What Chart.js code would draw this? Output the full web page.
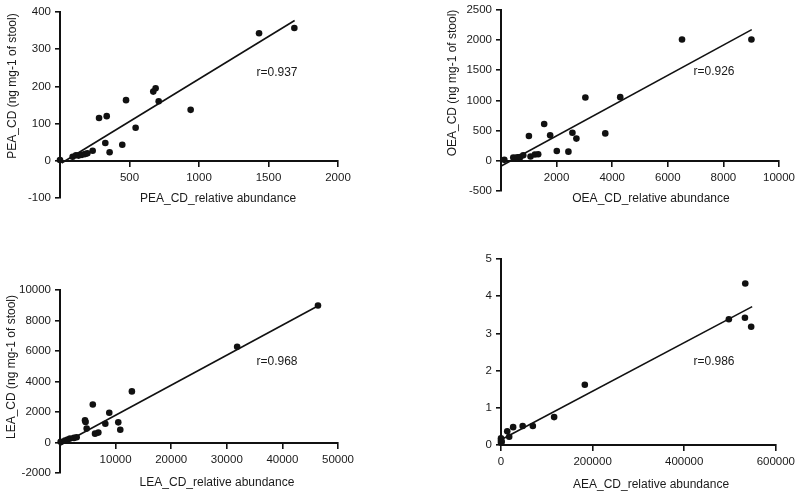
<!DOCTYPE html>
<html lang="en">
<head>
<meta charset="UTF-8" />
<title>CD correlations</title>
<script src="https://cdn.jsdelivr.net/npm/chart.js"></script>
<style>
  body { margin: 0; background: #fff; }
  canvas { position: absolute; }
</style>
</head>
<body>

<canvas id="pea" style="left:0;top:0" width="400" height="240"></canvas>
<canvas id="oea" style="left:400px;top:0" width="400" height="240"></canvas>
<canvas id="lea" style="left:0;top:240px" width="400" height="251"></canvas>
<canvas id="aea" style="left:400px;top:240px" width="400" height="251"></canvas>

<script>
  // PEA
  const peaX = [0, 91, 115, 134, 158, 180, 197, 235, 281, 326, 336, 357, 448, 475, 544, 671, 688, 710, 940, 1432, 1686];
  const peaY = [2, 11, 15, 14, 16, 18, 20, 27, 115, 48, 120, 23, 43, 163, 89, 186, 195, 160, 137, 343, 357];
  const peaFitX = [12, 1688];
  const peaFitY = [-6, 377];
  const peaXTicks = [500, 1000, 1500, 2000];
  const peaYTicks = [-100, 0, 100, 200, 300, 400];

  // OEA
  const oeaX = [120, 442, 530, 600, 690, 800, 1004, 1063, 1219, 1338, 1553, 1768, 2007, 2425, 2569, 2712, 3035, 3751, 4289, 6511, 9008];
  const oeaY = [16, 54, 50, 56, 60, 92, 410, 70, 103, 108, 610, 421, 162, 151, 464, 367, 1047, 453, 1053, 2008, 2008];
  const oeaFitX = [24, 9020];
  const oeaFitY = [-81, 2171];
  const oeaXTicks = [2000, 4000, 6000, 8000, 10000];
  const oeaYTicks = [-500, 0, 500, 1000, 1500, 2000, 2500];

  // LEA
  const leaX = [120, 900, 1380, 1800, 2515, 3000, 4500, 4600, 4800, 5900, 6300, 6900, 8150, 8860, 10480, 10840, 12930, 31860, 46400];
  const leaY = [43, 130, 195, 260, 303, 346, 1450, 1340, 910, 2490, 580, 650, 1230, 1950, 1320, 840, 3350, 6280, 8980];
  const leaFitX = [0, 46700];
  const leaFitY = [-180, 9020];
  const leaXTicks = [10000, 20000, 30000, 40000, 50000];
  const leaYTicks = [-2000, 0, 2000, 4000, 6000, 8000, 10000];

  // AEA
  const aeaX = [0, 0, 0, 1500, 13600, 17900, 26500, 47300, 69500, 116000, 183000, 497500, 532600, 533300, 546200];
  const aeaY = [0.06, 0.12, 0.18, 0.09, 0.37, 0.22, 0.48, 0.51, 0.51, 0.75, 1.62, 3.38, 3.42, 4.34, 3.18];
  const aeaFitX = [0, 548400];
  const aeaFitY = [0.14, 3.72];
  const aeaXTicks = [0, 200000, 400000, 600000];
  const aeaYTicks = [0, 1, 2, 3, 4, 5];

  const FONT = "'Liberation Sans', Arial, Helvetica, sans-serif";
  const INK = "#1a1a1a";

  function toPoints(xs, ys) {
    return xs.map((x, i) => ({ x: x, y: ys[i] }));
  }

  // axis titles and r value, drawn as plain text on the canvas
  const panelText = {
    id: "panelText",
    afterDraw(chart, args, opts) {
      const c = chart.ctx;
      c.save();
      c.fillStyle = INK;
      c.font = "12px " + FONT;
      c.textAlign = "center";
      c.textBaseline = "middle";
      c.fillText(opts.xTitle, opts.xTitleAt[0], opts.xTitleAt[1]);
      c.fillText(opts.r, opts.rAt[0], opts.rAt[1]);
      c.translate(opts.yTitleAt[0], opts.yTitleAt[1]);
      c.rotate(-Math.PI / 2);
      c.fillText(opts.yTitle, 0, 0);
      c.restore();
    }
  };

  function makeChart(id, p) {
    const axisStyle = {
      grid: { drawOnChartArea: false, drawTicks: true, tickLength: 5, color: "#111", lineWidth: 1.6 },
      border: { color: "#111", width: 2 }
    };
    return new Chart(document.getElementById(id), {
      type: "scatter",
      data: {
        datasets: [
          {
            data: toPoints(p.xs, p.ys),
            backgroundColor: "#111",
            borderWidth: 0,
            pointRadius: 3.3,
            clip: false
          },
          {
            type: "line",
            data: toPoints(p.fitX, p.fitY),
            borderColor: "#111",
            borderWidth: 1.6,
            pointRadius: 0,
            fill: false,
            clip: false
          }
        ]
      },
      options: {
        responsive: false,
        animation: false,
        layout: { padding: p.pad },
        plugins: {
          legend: { display: false },
          tooltip: { enabled: false },
          panelText: p.text
        },
        scales: {
          x: {
            type: "linear",
            position: { y: 0 },
            min: p.xMin,
            max: p.xMax,
            afterBuildTicks: s => { s.ticks = p.xTicks.map(v => ({ value: v })); },
            ticks: {
              color: INK,
              padding: 5,
              maxRotation: 0,
              font: { family: FONT, size: 11.5 },
              callback: v => String(v)
            },
            ...axisStyle
          },
          y: {
            type: "linear",
            min: p.yMin,
            max: p.yMax,
            afterBuildTicks: s => { s.ticks = p.yTicks.map(v => ({ value: v })); },
            afterFit: s => { s.width = p.yWidth; },
            ticks: {
              color: INK,
              padding: 4,
              font: { family: FONT, size: 11.5, lineHeight: 1 },
              callback: v => String(v)
            },
            ...axisStyle
          }
        }
      },
      plugins: [panelText]
    });
  }

  makeChart("pea", {
    xs: peaX, ys: peaY, fitX: peaFitX, fitY: peaFitY,
    xMin: 0, xMax: 2000, xTicks: peaXTicks,
    yMin: -100, yMax: 400, yTicks: peaYTicks,
    yWidth: 60,
    pad: { left: 0, top: 12, right: 62, bottom: 42 },
    text: {
      xTitle: "PEA_CD_relative abundance", xTitleAt: [218, 199],
      yTitle: "PEA_CD (ng mg-1 of stool)", yTitleAt: [13, 86],
      r: "r=0.937", rAt: [277, 73]
    }
  });

  makeChart("oea", {
    xs: oeaX, ys: oeaY, fitX: oeaFitX, fitY: oeaFitY,
    xMin: 0, xMax: 10000, xTicks: oeaXTicks,
    yMin: -500, yMax: 2500, yTicks: oeaYTicks,
    yWidth: 101,
    pad: { left: 0, top: 6, right: 20, bottom: 49 },
    text: {
      xTitle: "OEA_CD_relative abundance", xTitleAt: [251, 199],
      yTitle: "OEA_CD (ng mg-1 of stool)", yTitleAt: [53, 83],
      r: "r=0.926", rAt: [314, 72]
    }
  });

  makeChart("lea", {
    xs: leaX, ys: leaY, fitX: leaFitX, fitY: leaFitY,
    xMin: 0, xMax: 50000, xTicks: leaXTicks,
    yMin: -2000, yMax: 10000, yTicks: leaYTicks,
    yWidth: 60,
    pad: { left: 0, top: 50, right: 62, bottom: 18 },
    text: {
      xTitle: "LEA_CD_relative abundance", xTitleAt: [217, 243],
      yTitle: "LEA_CD (ng mg-1 of stool)", yTitleAt: [12, 127],
      r: "r=0.968", rAt: [277, 122]
    }
  });

  makeChart("aea", {
    xs: aeaX, ys: aeaY, fitX: aeaFitX, fitY: aeaFitY,
    xMin: 0, xMax: 600000, xTicks: aeaXTicks,
    yMin: 0, yMax: 5, yTicks: aeaYTicks,
    yWidth: 101,
    pad: { left: 0, top: 19, right: 20, bottom: 46 },
    text: {
      xTitle: "AEA_CD_relative abundance", xTitleAt: [251, 245],
      yTitle: "AEA_CD (ng mg-1 of stool)", yTitleAt: [75, 356],
      r: "r=0.986", rAt: [314, 122]
    }
  });
</script>

</body>
</html>
